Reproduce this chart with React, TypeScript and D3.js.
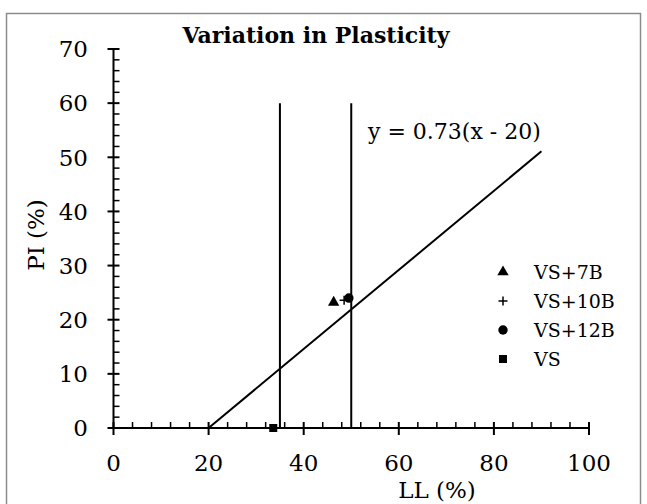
import React from 'react';
import * as d3 from 'd3';

// Data
const seriesNames = ['VS+7B', 'VS+10B', 'VS+12B', 'VS'];
const llValues = [46.3, 48.5, 49.5, 33.6];
const piValues = [23.2, 23.6, 24.0, 0];

const aLineLL = [20, 90];
const aLinePI = [0, 51.1];

const boundaryLL = [35, 50];
const boundaryPI = [0, 60];

const xTicks = [0, 20, 40, 60, 80, 100];
const yTicks = [0, 10, 20, 30, 40, 50, 60, 70];

const W = 647;
const H = 504;
const font = '"DejaVu Serif", serif';

const App = () => {
  const x = d3.scaleLinear().domain([0, 100]).range([113.5, 589]);
  const y = d3.scaleLinear().domain([0, 70]).range([428, 49]);

  const xMinor = d3.range(0, 100.01, 4).filter((v) => v % 20 !== 0);
  const yMinor = d3.range(0, 70.01, 2).filter((v) => v % 10 !== 0);

  const line = d3.line<[number, number]>().x((d) => x(d[0])).y((d) => y(d[1]));
  const aLine = line(aLineLL.map((v, i) => [v, aLinePI[i]] as [number, number]));

  const tri = d3.symbol().type(d3.symbolTriangle).size(56)();
  const circ = d3.symbol().type(d3.symbolCircle).size(70)();
  const sq = d3.symbol().type(d3.symbolSquare).size(64)();
  const plus = 'M-4.5,0H4.5M0,-4.5V4.5';

  const marker = (i: number) => {
    if (i === 0) return <path d={tri!} fill="#000" />;
    if (i === 1) return <path d={plus} stroke="#000" strokeWidth={1.5} fill="none" />;
    if (i === 2) return <path d={circ!} fill="#000" />;
    return <path d={sq!} fill="#000" />;
  };

  const legendY = [272, 301, 330, 359];

  return (
    <svg
      width={W}
      height={H}
      style={{ position: 'absolute', left: 0, top: 0, background: '#fff' }}
      fontFamily={font}
    >
      <rect x={6.5} y={13.5} width={634} height={500} fill="#fff" stroke="#8c8c8c" strokeWidth={1.5} />

      <text x={316} y={43} textAnchor="middle" fontWeight="bold" fontSize={22}>
        Variation in Plasticity
      </text>

      {/* y axis */}
      <line x1={x(0)} x2={x(0)} y1={y(0)} y2={y(70)} stroke="#000" strokeWidth={2} />
      {yTicks.map((t) => (
        <g key={'yt' + t}>
          <line x1={x(0) - 6} x2={x(0) + 6} y1={y(t)} y2={y(t)} stroke="#000" strokeWidth={2} />
          <text x={88} y={y(t)} dy="0.36em" textAnchor="end" fontSize={23}>
            {t}
          </text>
        </g>
      ))}
      {yMinor.map((t) => (
        <line key={'ym' + t} x1={x(0)} x2={x(0) + 6} y1={y(t)} y2={y(t)} stroke="#000" strokeWidth={1.5} />
      ))}

      {/* x axis */}
      <line x1={x(0)} x2={x(100)} y1={y(0)} y2={y(0)} stroke="#000" strokeWidth={2} />
      {xTicks.map((t) => (
        <g key={'xt' + t}>
          <line x1={x(t)} x2={x(t)} y1={y(0) - 6} y2={y(0) + 7} stroke="#000" strokeWidth={2} />
          <text x={x(t)} y={471} textAnchor="middle" fontSize={23}>
            {t}
          </text>
        </g>
      ))}
      {xMinor.map((t) => (
        <line key={'xm' + t} x1={x(t)} x2={x(t)} y1={y(0) - 6} y2={y(0)} stroke="#000" strokeWidth={1.5} />
      ))}

      {/* axis titles */}
      <text x={437} y={498} textAnchor="middle" fontSize={23}>
        LL (%)
      </text>
      <text transform="translate(44,235) rotate(-90)" textAnchor="middle" fontSize={23}>
        PI (%)
      </text>

      {/* boundary lines */}
      {boundaryLL.map((v) => (
        <line key={'b' + v} x1={x(v)} x2={x(v)} y1={y(boundaryPI[0])} y2={y(boundaryPI[1])} stroke="#000" strokeWidth={2} />
      ))}

      {/* A-line */}
      <path d={aLine!} fill="none" stroke="#000" strokeWidth={2} />
      <text x={368} y={139} fontSize={22}>
        y = 0.73(x - 20)
      </text>

      {/* points */}
      {seriesNames.map((s, i) => (
        <g key={s} transform={`translate(${x(llValues[i])},${y(piValues[i])})`}>
          {marker(i)}
        </g>
      ))}

      {/* legend */}
      {seriesNames.map((s, i) => (
        <g key={'lg' + s} transform={`translate(503,${legendY[i]})`}>
          {marker(i)}
          <text x={31} dy="0.36em" fontSize={19}>
            {s}
          </text>
        </g>
      ))}
    </svg>
  );
};

export default App;
